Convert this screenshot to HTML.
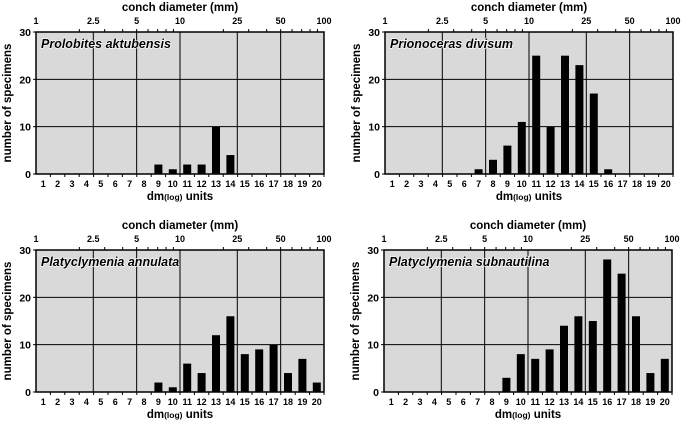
<!DOCTYPE html>
<html><head><meta charset="utf-8"><style>
body{margin:0;background:#fff;}
svg{display:block;font-family:"Liberation Sans",Arial,sans-serif;font-weight:bold;}
</style></head><body>
<svg id="c" width="685" height="423" viewBox="0 0 685 423"></svg>
<script>
const bins=[1,2,3,4,5,6,7,8,9,10,11,12,13,14,15,16,17,18,19,20];
const diamTicks=[1,2.5,5,10,25,50,100];
const yTicks=[0,10,20,30];
const titles=["Prolobites aktubensis","Prionoceras divisum","Platyclymenia annulata","Platyclymenia subnautilina"];
const vals0=[0,0,0,0,0,0,0,0,2,1,2,2,10,4,0,0,0,0,0,0];
const vals1=[0,0,0,0,0,0,1,3,6,11,25,10,25,23,17,1,0,0,0,0];
const vals2=[0,0,0,0,0,0,0,0,2,1,6,4,12,16,8,9,10,4,7,2];
const vals3=[0,0,0,0,0,0,0,0,3,8,7,9,14,16,15,28,25,16,4,7];
const series=[vals0,vals1,vals2,vals3];
const panels=[{x:36,y:32},{x:385,y:32},{x:36,y:250},{x:384,y:250}];
const W=288,H=142,NS="http://www.w3.org/2000/svg";
const svg=document.getElementById('c');
function el(t,a,p){const e=document.createElementNS(NS,t);for(const k in a)e.setAttribute(k,a[k]);(p||svg).appendChild(e);return e;}
panels.forEach((p,pi)=>{
  const g=el('g',{});
  
  
  const xb=i=>p.x+(i-0.5)*W/20;
  const xl=d=>p.x+Math.log10(d)/2*W;
  const y=v=>p.y+H-v/30*H;
  const bg=el('rect',{x:p.x,y:p.y,width:W,height:H,fill:'#d9d9d9'},g);
  
  
  yTicks.slice(1,3).forEach(v=>{const l=el('line',{x1:p.x,x2:p.x+W,y1:y(v),y2:y(v),stroke:'#000','stroke-width':1},g);
    });
  diamTicks.slice(1,6).forEach(d=>{const l=el('line',{x1:xl(d),x2:xl(d),y1:p.y,y2:p.y+H,stroke:'#000','stroke-width':1},g);
    });
  [1,10].forEach(dec=>{for(let m=2;m<=9;m++){const xx=xl(dec*m);el('line',{x1:xx,x2:xx,y1:p.y-3,y2:p.y,stroke:'#000'},g);}});
  el('rect',{x:p.x,y:p.y,width:W,height:H,fill:'none',stroke:'#000','stroke-width':1.5},g);
  series[pi].forEach((v,i)=>{if(!v)return;
    const b=el('rect',{x:xb(bins[i])-4,y:y(v),width:8,height:y(0)-y(v),fill:'#000'},g);
    
    });
  bins.forEach(b=>{
    el('line',{x1:p.x+b*W/20,x2:p.x+b*W/20,y1:p.y+H,y2:p.y+H+3,stroke:'#000'},g);
    const t=el('text',{x:xb(b),y:p.y+H+13,'text-anchor':'middle','font-size':9},g);t.textContent=b;
    });
  yTicks.forEach(v=>{
    el('line',{x1:p.x-3,x2:p.x,y1:y(v),y2:y(v),stroke:'#000'},g);
    const t=el('text',{x:p.x-5,y:y(v)+4,'text-anchor':'end','font-size':10.5},g);t.textContent=v;
    });
  diamTicks.forEach(d=>{
    const t=el('text',{x:xl(d),y:p.y-8,'text-anchor':'middle','font-size':9},g);t.textContent=d;
    });
  const tt=el('text',{x:p.x+W/2,y:p.y-21,'text-anchor':'middle','font-size':11.5},g);tt.textContent='conch diameter (mm)';
  
  const xt=el('text',{x:p.x+W/2,y:p.y+H+26,'text-anchor':'middle','font-size':11.5},g);
  xt.innerHTML='dm<tspan font-size="8.5">(log)</tspan> units';
  
  const yt=el('text',{x:0,y:0,'text-anchor':'middle','font-size':11.5,transform:`translate(${p.x-25},${p.y+H/2}) rotate(-90)`},g);
  yt.textContent='number of specimens';
  
  const nt=el('text',{x:p.x+5,y:p.y+16,'font-size':12.5,'font-style':'italic',stroke:'#fff','stroke-width':1.2,'paint-order':'stroke'},g);
  nt.textContent=titles[pi];
  
});
</script>
</body></html>
